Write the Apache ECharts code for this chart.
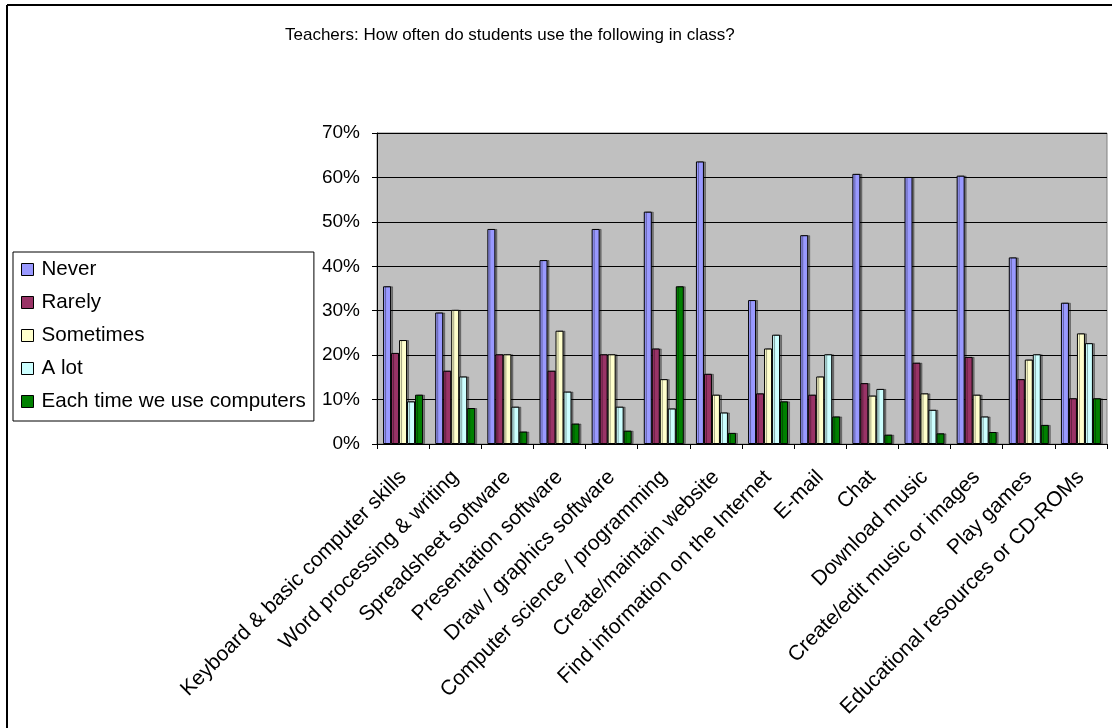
<!DOCTYPE html>
<html>
<head>
<meta charset="utf-8">
<script src="https://cdn.jsdelivr.net/npm/echarts@6/dist/echarts.min.js"></script>
<style>
html,body{margin:0;padding:0;background:#fff;}
#chart{width:1112px;height:728px;}
</style>
</head>
<body>
<div id="chart"></div>
<script>
var titleText = 'Teachers: How often do students use the following in class?';
var categories = [
  'Keyboard & basic computer skills',
  'Word processing & writing',
  'Spreadsheet software',
  'Presentation software',
  'Draw / graphics software',
  'Computer science / programming',
  'Create/maintain website',
  'Find information on the Internet',
  'E-mail',
  'Chat',
  'Download music',
  'Create/edit music or images',
  'Play games',
  'Educational resources or CD-ROMs'
];
var seriesNames = ['Never', 'Rarely', 'Sometimes', 'A lot', 'Each time we use computers'];
var never     = [35.5, 29.6, 48.4, 41.4, 48.4, 52.3, 63.6, 32.4, 47.0, 60.8, 60.1, 60.4, 42.0, 31.8];
var rarely    = [20.5, 16.5, 20.2, 16.5, 20.2, 21.5, 15.8, 11.4, 11.1, 13.7, 18.3, 19.6, 14.6, 10.3];
var sometimes = [23.4, 30.2, 20.2, 25.5, 20.2, 14.6, 11.1, 21.5, 15.2, 10.9, 11.4, 11.1, 19.0, 24.9];
var aLot      = [9.6, 15.2, 8.4, 11.8, 8.4, 8.0, 7.1, 24.6, 20.2, 12.4, 7.7, 6.2, 20.2, 22.7];
var eachTime  = [11.1, 8.1, 2.8, 4.6, 3.0, 35.5, 2.5, 9.6, 6.2, 2.1, 2.4, 2.7, 4.3, 10.3];
var yTicks = [0, 10, 20, 30, 40, 50, 60, 70];

var colors = ['#9999FF', '#993366', '#FFFFCC', '#CCFFFF', '#008000'];
var allData = [never, rarely, sometimes, aLot, eachTime];
var FONT = "'Liberation Sans', Arial, sans-serif";

var chart = echarts.init(document.getElementById('chart'));
var series = seriesNames.map(function (n, i) {
  return {
    name: n,
    type: 'bar',
    data: allData[i],
    barWidth: 8,
    barGap: '0%',
    itemStyle: {
      color: colors[i],
      borderColor: '#000',
      borderWidth: 1,
      shadowColor: 'rgba(0,0,0,0.35)',
      shadowOffsetX: 2,
      shadowOffsetY: 0,
      shadowBlur: 0
    },
    emphasis: {disabled: true}
  };
});

chart.setOption({
  animation: false,
  backgroundColor: '#ffffff',
  textStyle: {fontFamily: FONT},
  title: {
    text: titleText,
    left: 280,
    top: 22,
    textStyle: {fontFamily: FONT, fontSize: 17, fontWeight: 'normal', color: '#000'}
  },
  legend: {
    orient: 'vertical',
    left: 13,
    top: 252,
    padding: [7, 8, 9, 8],
    itemGap: 12,
    itemWidth: 12,
    itemHeight: 12,
    icon: 'rect',
    borderColor: '#000',
    borderWidth: 1,
    backgroundColor: '#fff',
    itemStyle: {borderColor: '#000', borderWidth: 1, shadowBlur: 0, shadowOffsetX: 0},
    textStyle: {fontFamily: FONT, fontSize: 20.6, color: '#000', lineHeight: 20, padding: [0, 0, 0, 3]},
    data: seriesNames
  },
  grid: {
    left: 377,
    top: 133,
    right: 5,
    bottom: 284,
    show: true,
    backgroundColor: '#C0C0C0',
    borderColor: '#808080',
    borderWidth: 1
  },
  xAxis: {
    type: 'category',
    data: categories,
    axisLine: {lineStyle: {color: '#000', width: 1}},
    axisTick: {show: true, length: 5, inside: false, lineStyle: {color: '#000'}},
    axisLabel: {
      interval: 0,
      rotate: 45,
      margin: 30,
      fontFamily: FONT,
      fontSize: 21,
      color: '#000'
    }
  },
  yAxis: {
    type: 'value',
    min: 0,
    max: 70,
    interval: 10,
    axisLine: {show: true, lineStyle: {color: '#000', width: 1}},
    axisTick: {show: true, length: 5, inside: false, lineStyle: {color: '#000'}},
    splitLine: {show: true, lineStyle: {color: '#000', width: 1}},
    axisLabel: {
      formatter: function (v) { return yTicks.indexOf(v) >= 0 ? v + '%' : ''; },
      fontFamily: FONT,
      fontSize: 19,
      color: '#000',
      margin: 17
    }
  },
  graphic: [
    {type: 'line', shape: {x1: 7, y1: 5, x2: 1112, y2: 5}, style: {stroke: '#000', lineWidth: 2}, z: 100},
    {type: 'line', shape: {x1: 7, y1: 5, x2: 7, y2: 728}, style: {stroke: '#000', lineWidth: 2}, z: 100}
  ],
  series: series
});
</script>
</body>
</html>
